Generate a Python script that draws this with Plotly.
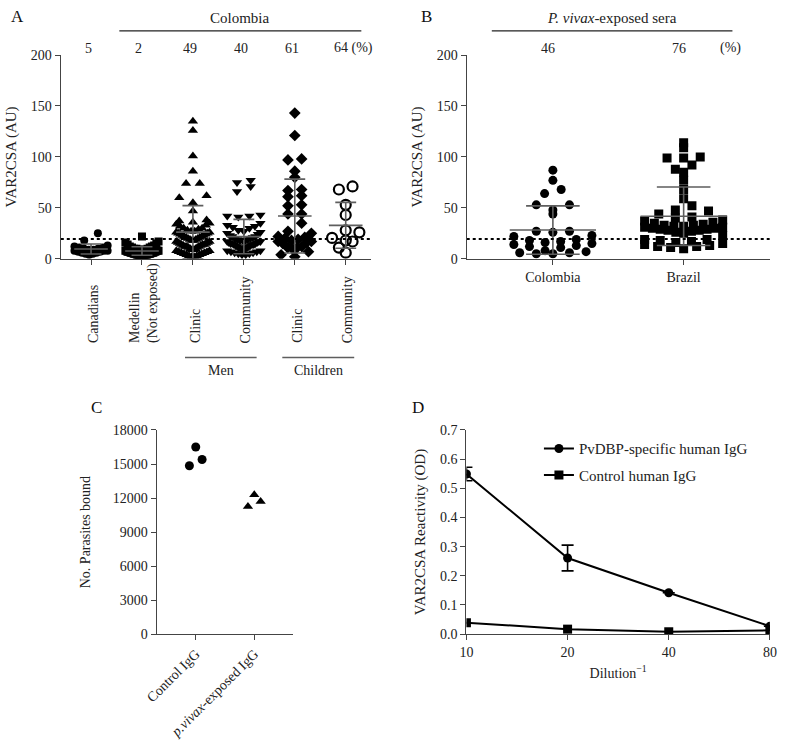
import numpy as np
import plotly.graph_objects as go

# ---------------- data ----------------
CUTOFF = 19.4

a_groups = ["Canadians", "Medellin<br>(Not exposed)", "Clinic", "Community", "Clinic", "Community"]
a_pct = ["5", "2", "49", "40", "61", "64 (%)"]
canadians = [25, 18, 13, 12, 11, 11, 10, 10, 9, 9, 8, 8, 8, 7, 7, 6, 6, 5, 5, 4]
medellin = [22, 17, 16, 15, 14, 13, 12, 12, 11, 11, 10, 10, 10, 9, 9, 9, 9, 8, 8, 8, 8, 8,
            7, 7, 7, 7, 7, 6, 6, 6, 6, 6, 6, 5, 5, 5, 5, 5, 5, 4, 4, 4, 4, 4, 3, 3, 3, 3, 2, 2]
men_clinic = [135, 126, 101, 86, 74, 74, 62, 60, 55, 47, 38, 37, 36, 35, 34, 33, 32, 30, 30, 29,
              28, 27, 27, 26, 26, 25, 25, 24, 24, 23, 23, 22, 22, 21, 21, 20, 20,
              19, 19, 18, 18, 17, 17, 16, 16, 15, 15, 14, 14, 14, 13, 13, 12, 12, 12, 11, 11,
              10, 10, 9, 9, 8, 8, 7, 7, 6, 6, 5, 5, 4, 4, 3, 3, 2, 2]
men_community = [77, 75, 71, 66, 43, 42, 42, 41, 35, 33, 32, 31, 30, 28, 27, 26, 25, 24, 23, 22,
                 22, 21, 20, 20, 19, 19, 18, 18, 18, 17, 17, 17, 16, 16, 15, 15, 15, 14, 14, 14,
                 13, 13, 12, 12, 11, 11, 10, 10, 9, 9, 8, 8, 7, 7, 6, 6, 5, 5, 4, 4]
children_clinic = [143, 121, 97, 98, 86, 80, 68, 67, 62, 61, 53, 52, 44, 44, 35, 27, 25, 22, 21, 20,
                   19, 18, 17, 17, 16, 15, 12, 11, 11, 10, 4, 2, 7]
children_community = [71, 68, 53, 43, 28, 26, 20.5, 17, 18, 11, 6]

b_groups = ["Colombia", "Brazil"]
b_pct = ["46", "76"]
b_colombia = [87, 77, 68, 64, 53, 53, 48, 44, 27, 27, 26, 23, 22, 19, 17, 18, 15, 13, 12, 11,
              14, 16, 7, 6, 5, 5, 6, 8]
b_brazil = [114, 109, 100, 99, 99, 92, 88, 85, 77, 68, 59, 52, 48, 47, 44, 41, 40, 38, 37, 36,
            35, 34, 33, 33, 32, 32, 31, 31, 30, 30, 29, 29, 28, 28, 27, 26, 25, 23,
            19, 19, 18, 17, 16, 15, 14, 13, 12, 12, 11, 10]

c_groups = ["Control IgG", "<i>p.vivax</i>-exposed IgG"]
c_control = [14850, 16500, 15400]
c_pvivax = [11250, 12300, 11700]

d_dilution = [10, 20, 40, 80]
d_pvdbp = [0.549, 0.261, 0.142, 0.027]
d_pvdbp_err = [0.023, 0.044, 0, 0]
d_control = [0.039, 0.017, 0.008, 0.013]

# ---------------- helpers ----------------
FONT = "Liberation Serif"
FW, FH = 785, 744
GRAY = "#5e5e5e"
AX = "#444444"


def row_offsets(values, bin_w, spacing_px, max_w_px, px_per_x):
    """GraphPad-like scatter-dot layout: values binned into rows, each row spread horizontally."""
    vals = np.asarray(values, float)
    bins = np.floor(vals / bin_w)
    offs = np.zeros(len(vals))
    for b in np.unique(bins):
        idx = np.where(bins == b)[0]
        idx = idx[np.argsort(vals[idx], kind="stable")]
        n = len(idx)
        s = spacing_px if n <= 1 else min(spacing_px, max_w_px / (n - 1))
        pos = sorted([(j - (n - 1) / 2) * s for j in range(n)], key=lambda p: (round(abs(p), 6), p))
        for i, p in zip(idx, pos):
            offs[i] = p / px_per_x
    return offs


def dom_x(p):
    return [p[0] / FW, p[1] / FW]


def dom_y(p):
    return [1 - p[1] / FH, 1 - p[0] / FH]


def px_x(p):
    return p / FW


def px_y(p):
    return 1 - p / FH


fig = go.Figure()

# panel geometry (pixels)
A_X = (50, 368); AB_Y = (49, 257)
B_X = (466, 776.7)
C_X = (148.3, 288.3); CD_Y = (431.7, 640)
D_X = (465.7, 776.7)
A_C0, B_C0, C_C0 = 81.0, 554.3, 188.3
A_PXX, B_PXX, C_PXX = 52.2, 134.0, 60.0

a_data = [canadians, medellin, men_clinic, men_community, children_clinic, children_community]
a_sym = ["circle", "square", "triangle-up", "triangle-down", "diamond", "circle-open"]
a_size = [8, 8, 9, 9, 9, 10]

for i, vals in enumerate(a_data):
    off = row_offsets(vals, 9, 14, 34, A_PXX)
    mk = dict(symbol=a_sym[i], size=a_size[i], color="black")
    if a_sym[i] == "circle-open":
        mk["line"] = dict(width=2.2, color="black")
    fig.add_trace(go.Scatter(x=i + off, y=vals, mode="markers", marker=mk,
                             xaxis="x", yaxis="y", showlegend=False, hoverinfo="y"))

b_data = [b_colombia, b_brazil]
b_sym = ["circle", "square"]
for i, vals in enumerate(b_data):
    off = row_offsets(vals, 8, 17, 80, B_PXX)
    fig.add_trace(go.Scatter(x=i + off, y=vals, mode="markers",
                             marker=dict(symbol=b_sym[i], size=9, color="black"),
                             xaxis="x2", yaxis="y2", showlegend=False, hoverinfo="y"))


def add_mean_sd(data, xa, ya, cap_px, half=0.33):
    for i, vals in enumerate(data):
        m = float(np.mean(vals)); s = float(np.std(vals, ddof=1))
        fig.add_trace(go.Scatter(x=[i - half, i + half], y=[m, m], mode="lines",
                                 line=dict(color=GRAY, width=1.6), xaxis=xa, yaxis=ya,
                                 showlegend=False, hoverinfo="skip"))
        fig.add_trace(go.Scatter(x=[i], y=[m], mode="markers", marker=dict(size=1, opacity=0),
                                 error_y=dict(type="data", array=[s], color=GRAY, thickness=1.6,
                                              width=cap_px),
                                 xaxis=xa, yaxis=ya, showlegend=False, hoverinfo="skip"))


add_mean_sd(a_data, "x", "y", 0.2 * A_PXX)
add_mean_sd(b_data, "x2", "y2", 0.2 * B_PXX)

a_rng = [-(A_C0 - A_X[0]) / A_PXX, (A_X[1] - A_C0) / A_PXX]
b_rng = [-(B_C0 - B_X[0]) / B_PXX, (B_X[1] - B_C0) / B_PXX]
c_rng = [-(C_C0 - C_X[0]) / C_PXX, (C_X[1] - C_C0) / C_PXX]
fig.add_trace(go.Scatter(x=a_rng, y=[CUTOFF, CUTOFF], mode="lines",
                         line=dict(color="black", width=2, dash="dot"),
                         xaxis="x", yaxis="y", showlegend=False, hoverinfo="skip"))
fig.add_trace(go.Scatter(x=b_rng, y=[CUTOFF, CUTOFF], mode="lines",
                         line=dict(color="black", width=2, dash="dot"),
                         xaxis="x2", yaxis="y2", showlegend=False, hoverinfo="skip"))

# panel C
for i, (vals, sym) in enumerate([(c_control, "circle"), (c_pvivax, "triangle-up")]):
    off = row_offsets(vals, 1200, 13, 40, C_PXX)
    fig.add_trace(go.Scatter(x=i + off, y=vals, mode="markers",
                             marker=dict(symbol=sym, size=9, color="black"),
                             xaxis="x3", yaxis="y3", showlegend=False, hoverinfo="y"))

# panel D
fig.add_trace(go.Scatter(x=d_dilution, y=d_pvdbp, mode="lines+markers", name="PvDBP-specific human IgG",
                         marker=dict(symbol="circle", size=9, color="black"),
                         line=dict(color="black", width=2),
                         error_y=dict(type="data", array=d_pvdbp_err, color="black", thickness=1.6, width=6),
                         xaxis="x4", yaxis="y4", legendgroup="g1"))
fig.add_trace(go.Scatter(x=d_dilution, y=d_control, mode="lines+markers", name="Control human IgG",
                         marker=dict(symbol="square", size=9, color="black"),
                         line=dict(color="black", width=2),
                         xaxis="x4", yaxis="y4", legendgroup="g2"))

axis_common = dict(showline=True, linecolor=AX, linewidth=1.3, ticks="outside", ticklen=5,
                   tickcolor=AX, tickwidth=1.2, showgrid=False, zeroline=False,
                   tickfont=dict(family=FONT, size=14, color="#222"))

layout = dict(
    width=FW, height=FH, margin=dict(l=0, r=0, t=0, b=0),
    plot_bgcolor="white", paper_bgcolor="white",
    font=dict(family=FONT, size=14, color="#222"),
    xaxis=dict(domain=dom_x(A_X), anchor="y", range=a_rng, tickvals=list(range(6)),
               showticklabels=False, **axis_common),
    yaxis=dict(domain=dom_y(AB_Y), anchor="x", range=[0, 200], tickvals=[0, 50, 100, 150, 200],
               title=dict(text="VAR2CSA (AU)", font=dict(family=FONT, size=15), standoff=10), **axis_common),
    xaxis2=dict(domain=dom_x(B_X), anchor="y2", range=b_rng, tickvals=[0, 1], ticktext=b_groups,
                **axis_common),
    yaxis2=dict(domain=dom_y(AB_Y), anchor="x2", range=[0, 200], tickvals=[0, 50, 100, 150, 200],
                title=dict(text="VAR2CSA (AU)", font=dict(family=FONT, size=15), standoff=10), **axis_common),
    xaxis3=dict(domain=dom_x(C_X), anchor="y3", range=c_rng,
                tickvals=[0, 1], ticktext=c_groups, tickangle=-45, **axis_common),
    yaxis3=dict(domain=dom_y(CD_Y), anchor="x3", range=[0, 18000], tickformat="d",
                tickvals=[0, 3000, 6000, 9000, 12000, 15000, 18000],
                title=dict(text="No. Parasites bound", font=dict(family=FONT, size=14), standoff=18), **axis_common),
    xaxis4=dict(domain=dom_x(D_X), anchor="y4", type="log", range=[1, np.log10(80)],
                tickvals=d_dilution, ticktext=[str(v) for v in d_dilution], ticklabeloverflow="allow",
                title=dict(text="Dilution<sup>−1</sup>", font=dict(family=FONT, size=14), standoff=9),
                **axis_common),
    yaxis4=dict(domain=dom_y(CD_Y), anchor="x4", range=[0, 0.7], tickvals=[0, 0.1, 0.2, 0.3, 0.4, 0.5, 0.6, 0.7],
                tickformat=".1f",
                title=dict(text="VAR2CSA Reactivity (OD)", font=dict(family=FONT, size=15), standoff=10),
                **axis_common),
    legend=dict(x=px_x(540), y=px_y(434), xanchor="left", yanchor="top", bgcolor="rgba(0,0,0,0)",
                font=dict(family=FONT, size=15, color="#222"), tracegroupgap=4, traceorder="grouped",
                itemwidth=30),
)
fig.update_layout(**layout)

ann = []
for lab, (x, y) in zip("ABCD", [(6, 10), (425, 10), (87, 409), (416, 409)]):
    ann.append(dict(text=lab, x=px_x(x), y=px_y(y), xref="paper", yref="paper", showarrow=False,
                    xanchor="center", yanchor="middle", font=dict(family=FONT, size=17, color="#111")))
ann.append(dict(text="Colombia", x=(234 - A_C0) / A_PXX, y=px_y(11), xref="x", yref="paper",
                showarrow=False, yanchor="middle", font=dict(family=FONT, size=15)))
for i, t in enumerate(a_pct):
    if i < len(a_pct) - 1:
        ann.append(dict(text=t, x=i, y=px_y(42), xref="x", yref="paper", showarrow=False,
                        xanchor="center", yanchor="middle", xshift=-3, font=dict(family=FONT, size=14)))
    else:
        ann.append(dict(text=t, x=i, y=px_y(42), xref="x", yref="paper", showarrow=False,
                        xanchor="left", yanchor="middle", xshift=-14, font=dict(family=FONT, size=14)))
for i, t in enumerate(a_groups):
    ann.append(dict(text=t, x=i, y=px_y(345), xref="x", yref="paper", showarrow=False, textangle=-90,
                    xanchor="center", yanchor="bottom", align="left", xshift=2,
                    font=dict(family=FONT, size=14)))
ann.append(dict(text="Men", x=(214 - A_C0) / A_PXX, y=px_y(371), xref="x", yref="paper", showarrow=False,
                yanchor="middle", font=dict(family=FONT, size=14)))
ann.append(dict(text="Children", x=(314 - A_C0) / A_PXX, y=px_y(371), xref="x", yref="paper", showarrow=False,
                yanchor="middle", font=dict(family=FONT, size=14)))
ann.append(dict(text="<i>P. vivax</i>-exposed sera", x=(615 - B_C0) / B_PXX, y=px_y(11), xref="x2",
                yref="paper", showarrow=False, yanchor="middle", font=dict(family=FONT, size=15)))
for i, t in enumerate(b_pct):
    ann.append(dict(text=t, x=i, y=px_y(42), xref="x2", yref="paper", showarrow=False,
                    xanchor="center", yanchor="middle", xshift=-5, font=dict(family=FONT, size=14)))
ann.append(dict(text="(%)", x=(736.5 - B_C0) / B_PXX, y=px_y(42), xref="x2", yref="paper", showarrow=False,
                xanchor="center", yanchor="middle", font=dict(family=FONT, size=14)))

shapes = [
    dict(type="line", xref="x", yref="paper", x0=(110 - A_C0) / A_PXX, x1=(358 - A_C0) / A_PXX,
         y0=px_y(24.3), y1=px_y(24.3), line=dict(color="#222", width=1.3)),
    dict(type="line", xref="x2", yref="paper", x0=(491.7 - B_C0) / B_PXX, x1=(738.3 - B_C0) / B_PXX,
         y0=px_y(24.3), y1=px_y(24.3), line=dict(color="#222", width=1.3)),
    dict(type="line", xref="x", yref="paper", x0=(177.3 - A_C0) / A_PXX, x1=(250.7 - A_C0) / A_PXX,
         y0=px_y(357.7), y1=px_y(357.7), line=dict(color=GRAY, width=1.3)),
    dict(type="line", xref="x", yref="paper", x0=(277 - A_C0) / A_PXX, x1=(350.7 - A_C0) / A_PXX,
         y0=px_y(357.7), y1=px_y(357.7), line=dict(color=GRAY, width=1.3)),
]
fig.update_layout(annotations=ann, shapes=shapes)

fig.write_html("out.html", config={"displayModeBar": False},
               post_script="document.body.style.margin='0px';")
